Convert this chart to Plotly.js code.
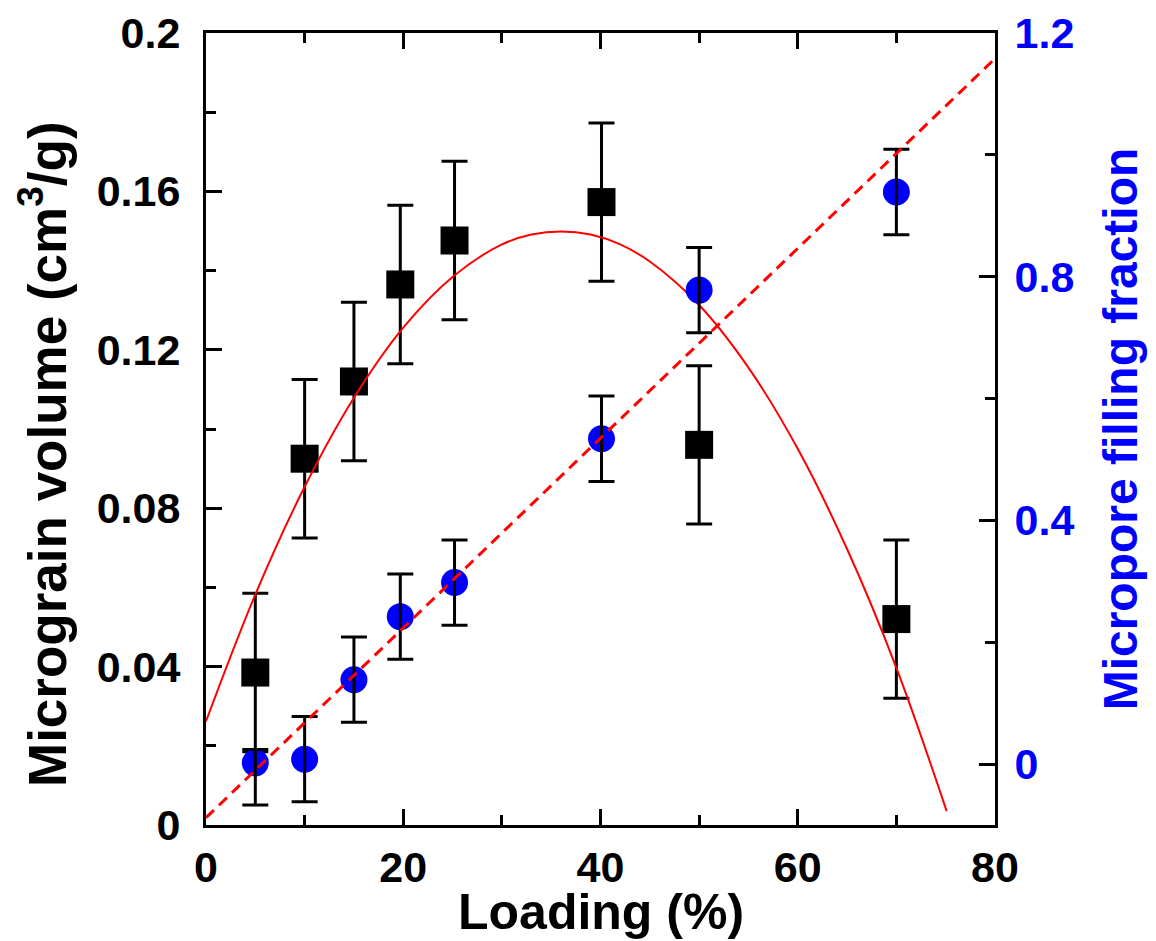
<!DOCTYPE html>
<html>
<head>
<meta charset="utf-8">
<script src="https://cdn.plot.ly/plotly-3.0.1.min.js"></script>
<style>
  html, body { margin: 0; padding: 0; background: #fff; }
  #chart { width: 1156px; height: 941px; }
</style>
</head>
<body>
<div id="chart"></div>
<script>
// Catalyst loading (%)
const loading = [5, 10, 15, 19.7, 25.2, 40.1, 50, 70];

// Micrograin volume (cm3/g) with symmetric error
const grainVolume = [0.0385, 0.0925, 0.112, 0.1365, 0.1476, 0.1573, 0.096, 0.052];
const grainVolumeErr = [0.02, 0.02, 0.02, 0.02, 0.02, 0.02, 0.02, 0.02];

// Micropore filling fraction with upper/lower error
const fillFraction = [0.002, 0.008, 0.1385, 0.242, 0.298, 0.534, 0.778, 0.939];
const fillErrPlus = [0.022, 0.07, 0.07, 0.07, 0.07, 0.07, 0.07, 0.07];
const fillErrMinus = [0.069, 0.07, 0.07, 0.07, 0.07, 0.07, 0.07, 0.07];

// Parabolic trend through the micrograin volume
const trendX = [0, 5, 10, 15, 20, 25, 30, 33, 36, 39, 42, 45, 50, 55, 60, 65, 70, 75.1];
const trendY = [0.0262, 0.0582, 0.0854, 0.1079, 0.1256, 0.1384, 0.1466, 0.1491, 0.1499,
                0.1491, 0.1466, 0.1423, 0.1313, 0.1155, 0.095, 0.0697, 0.0397, 0.0035];

// Linear trend through the filling fraction
const lineX = [0, 80];
const lineY = [-0.088, 1.158];

const FONT = 'Arial, "Liberation Sans", sans-serif';

const traces = [
  {
    x: loading, y: grainVolume, type: 'scatter', mode: 'markers',
    marker: { symbol: 'square', size: 28, color: '#000' },
    error_y: { type: 'data', array: grainVolumeErr, visible: true,
               color: '#000', thickness: 3, width: 13 },
    showlegend: false, hoverinfo: 'x+y'
  },
  {
    x: loading, y: fillFraction, yaxis: 'y2', type: 'scatter', mode: 'markers',
    marker: { symbol: 'circle', size: 27, color: '#0000ff' },
    showlegend: false, hoverinfo: 'x+y'
  },
  {
    // error bars for the filling fraction, layered above the circles
    x: loading, y: fillFraction, yaxis: 'y2', type: 'scatter', mode: 'markers',
    marker: { size: 1, opacity: 0 },
    error_y: { type: 'data', symmetric: false, array: fillErrPlus, arrayminus: fillErrMinus,
               visible: true, color: '#000', thickness: 3, width: 13 },
    showlegend: false, hoverinfo: 'skip'
  },
  {
    x: trendX, y: trendY, type: 'scatter', mode: 'lines',
    line: { color: '#ff0000', width: 2, shape: 'spline', smoothing: 1 },
    showlegend: false, hoverinfo: 'skip'
  },
  {
    x: lineX, y: lineY, yaxis: 'y2', type: 'scatter', mode: 'lines',
    line: { color: '#ff0000', width: 3, dash: '11px,7px' },
    showlegend: false, hoverinfo: 'skip'
  }
];

const layout = {
  width: 1156, height: 941,
  margin: { l: 206, r: 161, t: 33, b: 116 },
  paper_bgcolor: '#fff', plot_bgcolor: '#fff',
  font: { family: FONT, size: 43, color: '#000', weight: 'bold' },
  xaxis: {
    range: [0, 80], tick0: 0, dtick: 20,
    ticks: 'inside', ticklen: 16, tickwidth: 3, tickcolor: '#000',
    minor: { dtick: 10, ticks: 'inside', ticklen: 10, tickwidth: 3, tickcolor: '#000' },
    showline: true, linewidth: 3, linecolor: '#000', mirror: 'ticks',
    showgrid: false, zeroline: false,
    ticklabelstandoff: 2,
    tickfont: { family: FONT, size: 43, color: '#000', weight: 'bold' }
  },
  yaxis: {
    range: [0, 0.2], tick0: 0, dtick: 0.04,
    ticks: 'inside', ticklen: 16, tickwidth: 3, tickcolor: '#000',
    minor: { dtick: 0.02, ticks: 'inside', ticklen: 10, tickwidth: 3, tickcolor: '#000' },
    showline: true, linewidth: 3, linecolor: '#000',
    showgrid: false, zeroline: false,
    ticklabelstandoff: 14,
    tickfont: { family: FONT, size: 43, color: '#000', weight: 'bold' }
  },
  yaxis2: {
    overlaying: 'y', side: 'right',
    range: [-0.1, 1.2], tick0: 0, dtick: 0.4,
    ticks: 'inside', ticklen: 16, tickwidth: 3, tickcolor: '#000',
    minor: { dtick: 0.2, ticks: 'inside', ticklen: 10, tickwidth: 3, tickcolor: '#000' },
    showline: true, linewidth: 3, linecolor: '#000',
    showgrid: false, zeroline: false,
    ticklabelstandoff: 8,
    tickfont: { family: FONT, size: 43, color: '#0000ff', weight: 'bold' },
    title: { text: 'Micropore filling fraction', standoff: 30,
             font: { family: FONT, size: 48, color: '#0000ff', weight: 'bold' } }
  },
  annotations: [
    {
      // bottom axis title, sitting at the page's lower edge
      text: 'Loading (%)',
      xref: 'paper', yref: 'paper', x: 0.5, y: -0.110,
      xanchor: 'center', yanchor: 'middle', showarrow: false,
      font: { family: FONT, size: 50, color: '#000', weight: 'bold' }
    },
    {
      // left axis title, set a little below the plot's centre line
      text: 'Micrograin volume (cm<sup>3</sup>/g)',
      xref: 'paper', yref: 'paper', x: -0.207, y: 0.468,
      xanchor: 'center', yanchor: 'middle', textangle: -90, showarrow: false,
      font: { family: FONT, size: 53, color: '#000', weight: 'bold' }
    }
  ]
};

Plotly.newPlot('chart', traces, layout, { displayModeBar: false, staticPlot: true });
</script>
</body>
</html>
